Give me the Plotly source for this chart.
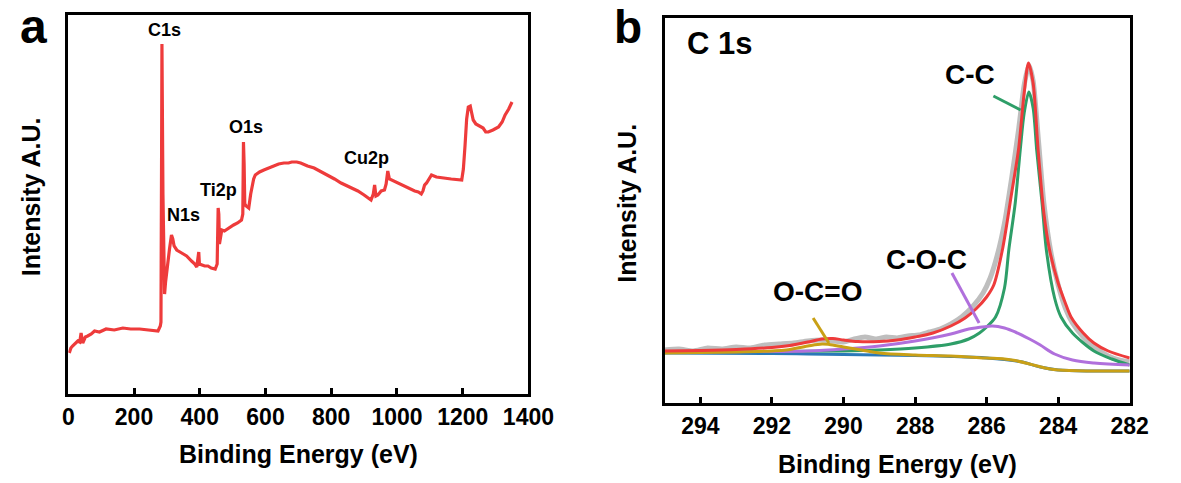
import plotly.graph_objects as go

# ---------------- Panel a: survey spectrum ----------------
survey_ev = [3, 8, 13, 20, 29, 35, 39, 44, 52, 59, 70, 80, 95, 115, 140, 166, 190, 217, 245, 273,
             280, 282, 284, 285, 286, 288, 290, 293, 296, 300, 304, 308, 314, 318, 322, 330, 345, 360,
             375, 385, 391, 395, 397, 399, 405, 415, 425, 435, 447, 453, 456, 458, 460, 463, 467, 475,
             483, 493, 503, 515, 527, 531, 533, 535, 537, 541, 549, 555, 559, 564, 569, 582, 595, 610,
             626, 640, 656, 670, 680, 695, 707, 720, 728, 748, 760, 770, 789, 810, 830, 855, 881, 900,
             915, 921, 928, 932, 936, 942, 952, 962, 967, 972, 977, 983, 998, 1013, 1035, 1054, 1065,
             1074, 1079, 1084, 1090, 1098, 1105, 1120, 1136, 1165, 1197, 1202, 1207, 1212, 1217, 1223,
             1228, 1232, 1240, 1247, 1262, 1270, 1278, 1292, 1309, 1320, 1329, 1340, 1350]
survey_int = [41, 46, 48, 50, 53, 52, 61, 51, 57, 58, 60, 63, 62, 65, 64, 66, 65, 65, 64, 63,
              68, 72, 250, 350, 300, 200, 140, 100, 112, 125, 135, 145, 159, 155, 148, 144, 141, 138,
              133, 130, 127, 140, 142, 130, 129, 128, 128, 126, 125, 130, 186, 180, 150, 156, 164, 163,
              165, 167, 169, 171, 174, 180, 252, 230, 190, 188, 186, 200, 208, 215, 219, 222, 224, 226,
              228, 230, 231, 231, 232, 232, 231, 229, 228, 226, 224, 222, 219, 215, 211, 207, 203, 199,
              195, 194, 200, 209, 198, 199, 203, 204, 210, 223, 215, 214, 212, 209, 206, 203, 202,
              200, 203, 209, 211, 216, 219, 217, 216, 215, 214, 225, 248, 275, 287, 288,
              280, 274, 270, 269, 266, 262, 262, 264, 267, 272, 279, 285, 292]

survey_labels = ["C1s", "N1s", "Ti2p", "O1s", "Cu2p"]
survey_label_ev = [294, 350, 456, 542, 907]
survey_label_int = [364, 179, 204, 267, 236]

# ---------------- Panel b: C 1s high resolution ----------------
raw_ev = [295, 294.6, 294.2, 293.8, 293.4, 293, 292.6, 292.2, 291.8, 291.4, 291, 290.6, 290.3, 290,
          289.7, 289.4, 289.1, 288.8, 288.5, 288.2, 287.9, 287.6, 287.3, 287, 286.7, 286.4, 286.1,
          285.9, 285.7, 285.5, 285.3, 285.1, 284.95, 284.82, 284.7, 284.55, 284.4, 284.2, 284.0,
          283.8, 283.6, 283.3, 283.0, 282.6, 282.3, 282.0]
raw_int = [53, 54, 52, 55, 54, 56, 55, 58, 59, 60, 62, 63, 62, 61,
           64, 66, 64, 66, 65, 67, 68, 71, 74, 79, 86, 96, 110,
           125, 148, 180, 225, 275, 318, 338, 322, 262, 200, 150, 118,
           95, 80, 66, 56, 47, 43, 41]

env_ev = [295.0, 294.0, 293.0, 292.0, 291.5, 291.0, 290.6, 290.3, 290.0, 289.6, 289.0, 288.5, 288.0,
          287.5, 287.0, 286.6, 286.3, 286.0, 285.8, 285.56, 285.3, 285.11, 284.95, 284.83, 284.7,
          284.56, 284.4, 284.24, 284.0, 283.8, 283.64, 283.3, 283.0, 282.6, 282.0]
env_int = [52, 52.5, 53.5, 55.5, 57.5, 61, 64, 64.5, 63, 61.5, 61.5, 63, 66,
           70, 77, 85, 94, 106, 118, 153, 210, 253, 310, 340, 320,
           253, 190, 153, 120, 100, 86, 70, 60, 52, 45]

cc_ev = [295, 292, 290, 289, 288, 287, 286.5, 286.2, 286.0, 285.75, 285.5, 285.38, 285.2, 285.06,
         284.95, 284.82, 284.7, 284.6, 284.45, 284.33, 284.1, 283.92, 283.6, 283.0, 282.5, 282.0]
cc_int = [51, 51.5, 52, 53, 55, 59, 64, 70, 76, 86, 115, 153, 200, 253,
          290, 311, 295, 253, 200, 153, 105, 86, 70, 52, 44, 38]

coc_ev = [295, 292, 291, 290, 289, 288, 287.0, 286.5, 286.0, 285.84, 285.5, 285.2, 284.8, 284.5,
          284.1, 283.6, 283.0, 282.0]
coc_int = [51, 51.5, 52, 54, 57, 62, 69, 74, 76.5, 77, 75, 71, 64, 58,
           49, 43, 40, 38]

oco_ev = [295, 293, 292, 291.6, 291.0, 290.6, 290.4, 290.0, 289.5, 289.0, 288.0, 287.0, 286.0,
          285.5, 285.2, 284.8, 284.37, 284.0, 283.0, 282.0]
oco_int = [50, 51, 52, 53, 57, 59, 58.5, 56, 53, 50, 48, 47, 45,
           44, 42.5, 39, 35, 33, 32, 32]

bg_ev = [295, 292, 291, 290, 289, 288, 287, 286, 285.5, 285, 284.5, 284, 283, 282]
bg_int = [50, 49.5, 49, 48.5, 48, 47.5, 46.5, 45, 43.5, 41, 36, 33, 32, 32]

peak_labels = ["C-C", "C-O-C", "O-C=O"]
peak_label_ev = [286.47, 287.68, 290.74]
peak_label_int = [328, 144, 112]
leader_ev = [[285.81, 285.05], [286.97, 286.21], [290.85, 290.41]]
leader_int = [[307, 293], [130, 80], [85, 60]]

RED = "#EE3B3B"
GREEN = "#2E9E68"
PURPLE = "#B070DC"
GOLD = "#C9A016"
BLUE = "#2A78B8"
GRAY = "#BEBEBE"
FONT = "Liberation Sans, Arial, sans-serif"

fig = go.Figure()

fig.add_trace(go.Scatter(x=survey_ev, y=survey_int, mode="lines",
                         line=dict(color=RED, width=3.2), xaxis="x", yaxis="y"))

fig.add_trace(go.Scatter(x=raw_ev, y=raw_int, mode="lines",
                         line=dict(color=GRAY, width=5, shape="spline", smoothing=0.6),
                         xaxis="x2", yaxis="y2"))
fig.add_trace(go.Scatter(x=bg_ev, y=bg_int, mode="lines",
                         line=dict(color=BLUE, width=3, shape="spline"), xaxis="x2", yaxis="y2"))
fig.add_trace(go.Scatter(x=cc_ev, y=cc_int, mode="lines",
                         line=dict(color=GREEN, width=3, shape="spline", smoothing=0.8), xaxis="x2", yaxis="y2"))
fig.add_trace(go.Scatter(x=coc_ev, y=coc_int, mode="lines",
                         line=dict(color=PURPLE, width=3, shape="spline"), xaxis="x2", yaxis="y2"))
fig.add_trace(go.Scatter(x=oco_ev, y=oco_int, mode="lines",
                         line=dict(color=GOLD, width=3, shape="spline"), xaxis="x2", yaxis="y2"))
fig.add_trace(go.Scatter(x=env_ev, y=env_int, mode="lines",
                         line=dict(color=RED, width=3, shape="spline", smoothing=0.8), xaxis="x2", yaxis="y2"))

for lx, ly, col in zip(leader_ev, leader_int, [GREEN, PURPLE, GOLD]):
    fig.add_trace(go.Scatter(x=lx, y=ly, mode="lines", line=dict(color=col, width=3),
                             xaxis="x2", yaxis="y2"))

W, H = 1181, 483
annotations = []
for t, xv, yv in zip(survey_labels, survey_label_ev, survey_label_int):
    annotations.append(dict(text=f"<b>{t}</b>", x=xv, y=yv, xref="x", yref="y", showarrow=False,
                            xanchor="center", yanchor="middle",
                            font=dict(family=FONT, size=18, color="black")))
for t, xv, yv in zip(peak_labels, peak_label_ev, peak_label_int):
    annotations.append(dict(text=f"<b>{t}</b>", x=xv, y=yv, xref="x2", yref="y2", showarrow=False,
                            xanchor="center", yanchor="middle",
                            font=dict(family=FONT, size=28, color="black")))
annotations.append(dict(text="<b>C 1s</b>", x=293.48, y=359, xref="x2", yref="y2", showarrow=False,
                        xanchor="center", yanchor="middle",
                        font=dict(family=FONT, size=31, color="black")))


def paper(px, py):
    return px / W, 1 - py / H


for txt, px, py, size, ang in [("a", 28, 27, 48, 0), ("b", 639, 27, 46, 0),
                               ("Binding Energy (eV)", 301, 454, 25, 0),
                               ("Binding Energy (eV)", 916, 464, 25, 0),
                               ("Intensity A.U.", 26, 197, 25, -90),
                               ("Intensity A.U.", 638, 203, 25, -90)]:
    xp, yp = paper(px, py)
    annotations.append(dict(text=f"<b>{txt}</b>", x=xp, y=yp, xref="paper", yref="paper",
                            showarrow=False, xanchor="center", yanchor="middle", textangle=ang,
                            font=dict(family=FONT, size=size, color="black")))

axis_common = dict(showline=True, linewidth=3, linecolor="black", mirror=True,
                   showgrid=False, zeroline=False)

fig.update_layout(
    width=W, height=H, margin=dict(l=0, r=0, t=0, b=0),
    paper_bgcolor="white", plot_bgcolor="white", showlegend=False,
    xaxis=dict(domain=[64 / W, 537 / W], range=[0, 1400], tickvals=[0, 200, 400, 600, 800, 1000, 1200, 1400],
               ticks="inside", ticklen=6, tickwidth=2.5, tickcolor="black", anchor="y",
               tickfont=dict(family=FONT, size=23, color="black", weight="bold"), **axis_common),
    yaxis=dict(domain=[(H - 394) / H, (H - 15) / H], range=[0, 379], showticklabels=False, ticks="",
               anchor="x", **axis_common),
    xaxis2=dict(domain=[677 / W, 1155 / W], range=[295, 282], tickvals=[294, 292, 290, 288, 286, 284, 282],
                ticks="inside", ticklen=6, tickwidth=2.5, tickcolor="black", anchor="y2",
                tickfont=dict(family=FONT, size=23, color="black", weight="bold"), **axis_common),
    yaxis2=dict(domain=[(H - 403) / H, (H - 18) / H], range=[0, 385], showticklabels=False, ticks="",
                anchor="x2", **axis_common),
    annotations=annotations,
)

fig.write_html("out.html")
